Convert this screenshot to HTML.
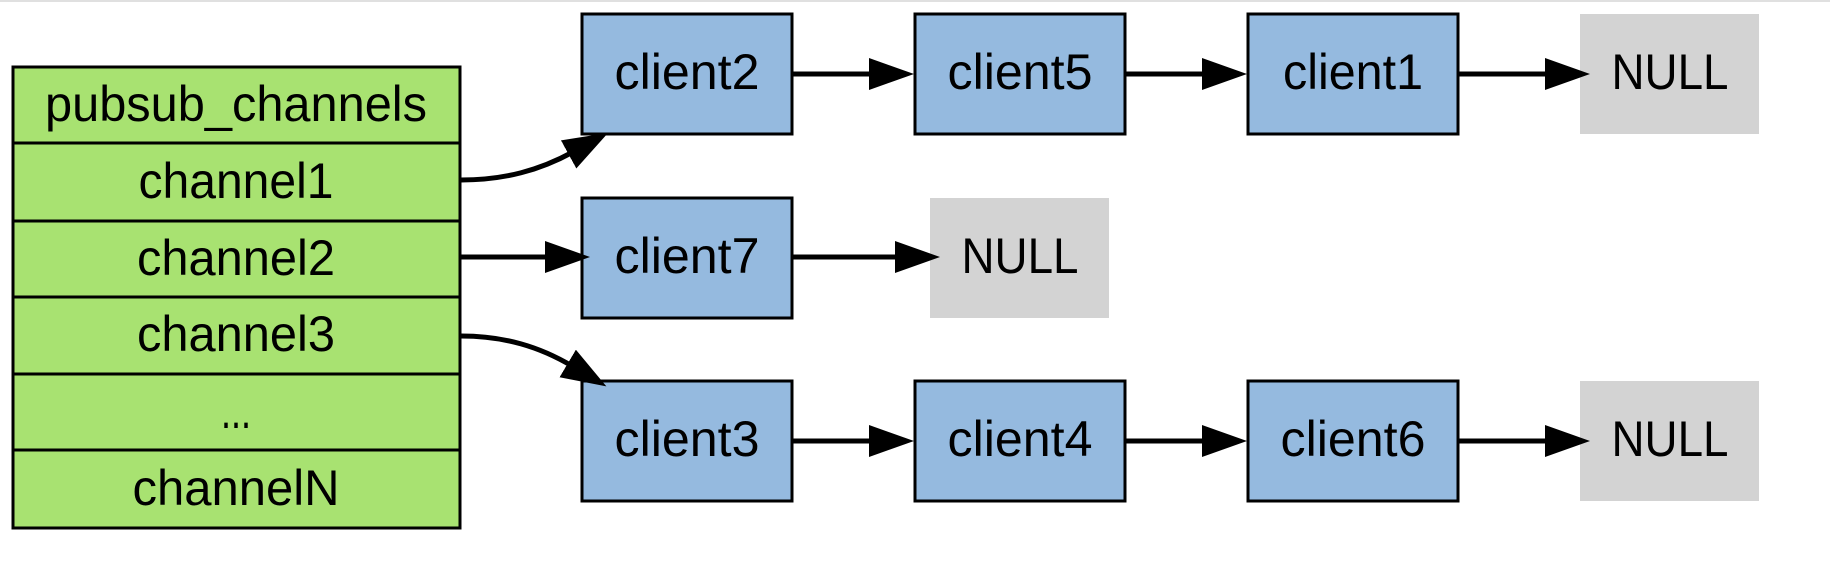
<!DOCTYPE html>
<html><head><style>
html,body{margin:0;padding:0;background:#fff;}
body{width:1830px;height:581px;overflow:hidden;}
svg text{font-family:"Liberation Sans",sans-serif;font-size:50px;fill:#000;}
</style></head><body>
<svg width="1830" height="581" xmlns="http://www.w3.org/2000/svg">
<defs><marker id="a" markerWidth="46" markerHeight="32" refX="5" refY="16" orient="auto" markerUnits="userSpaceOnUse"><path d="M0,0 L45,16 L0,32 Z" fill="#000"/></marker></defs>
<rect x="0" y="0" width="1830" height="2" fill="#e0e0e0"/>
<g stroke="#000" stroke-width="3" fill="#a8e271">
<rect x="13" y="67" width="447" height="76"/>
<rect x="13" y="143" width="447" height="78"/>
<rect x="13" y="221" width="447" height="76"/>
<rect x="13" y="297" width="447" height="77"/>
<rect x="13" y="374" width="447" height="76"/>
<rect x="13" y="450" width="447" height="78"/>
</g>
<g text-anchor="middle" lengthAdjust="spacingAndGlyphs">
<text x="236" y="121" textLength="382" lengthAdjust="spacingAndGlyphs">pubsub_channels</text>
<text x="236" y="198" textLength="195" lengthAdjust="spacingAndGlyphs">channel1</text>
<text x="236" y="275" textLength="198" lengthAdjust="spacingAndGlyphs">channel2</text>
<text x="236" y="351" textLength="198" lengthAdjust="spacingAndGlyphs">channel3</text>
<text x="236" y="428" textLength="30" lengthAdjust="spacingAndGlyphs">...</text>
<text x="236" y="505" textLength="207" lengthAdjust="spacingAndGlyphs">channelN</text>
</g>
<g stroke="#000" stroke-width="3" fill="#95badf">
<rect x="582" y="14" width="210" height="120"/>
<rect x="915" y="14" width="210" height="120"/>
<rect x="1248" y="14" width="210" height="120"/>
<rect x="582" y="198" width="210" height="120"/>
<rect x="582" y="381" width="210" height="120"/>
<rect x="915" y="381" width="210" height="120"/>
<rect x="1248" y="381" width="210" height="120"/>
</g>
<g fill="#d3d3d3">
<rect x="1580" y="14" width="179" height="120"/>
<rect x="930" y="198" width="179" height="120"/>
<rect x="1580" y="381" width="179" height="120"/>
</g>
<g text-anchor="middle">
<text x="687" y="89" textLength="145" lengthAdjust="spacingAndGlyphs">client2</text>
<text x="1020" y="89" textLength="145" lengthAdjust="spacingAndGlyphs">client5</text>
<text x="1353" y="89" textLength="140" lengthAdjust="spacingAndGlyphs">client1</text>
<text x="1670" y="89" textLength="117" lengthAdjust="spacingAndGlyphs">NULL</text>
<text x="687" y="273" textLength="145" lengthAdjust="spacingAndGlyphs">client7</text>
<text x="1020" y="273" textLength="117" lengthAdjust="spacingAndGlyphs">NULL</text>
<text x="687" y="456" textLength="145" lengthAdjust="spacingAndGlyphs">client3</text>
<text x="1020" y="456" textLength="145" lengthAdjust="spacingAndGlyphs">client4</text>
<text x="1353" y="456" textLength="145" lengthAdjust="spacingAndGlyphs">client6</text>
<text x="1670" y="456" textLength="117" lengthAdjust="spacingAndGlyphs">NULL</text>
</g>
<g stroke="#000" stroke-width="5" fill="none" marker-end="url(#a)">
<path d="M461,180 C505,180 540,170 573,152"/>
<path d="M461,336 C505,336 540,347 572,366"/>
<line x1="461" y1="257" x2="550" y2="257"/>
<line x1="792" y1="74" x2="874" y2="74"/>
<line x1="1125" y1="74" x2="1207" y2="74"/>
<line x1="1458" y1="74" x2="1550" y2="74"/>
<line x1="792" y1="257" x2="900" y2="257"/>
<line x1="792" y1="441" x2="874" y2="441"/>
<line x1="1125" y1="441" x2="1207" y2="441"/>
<line x1="1458" y1="441" x2="1550" y2="441"/>
</g>
</svg>
</body></html>
